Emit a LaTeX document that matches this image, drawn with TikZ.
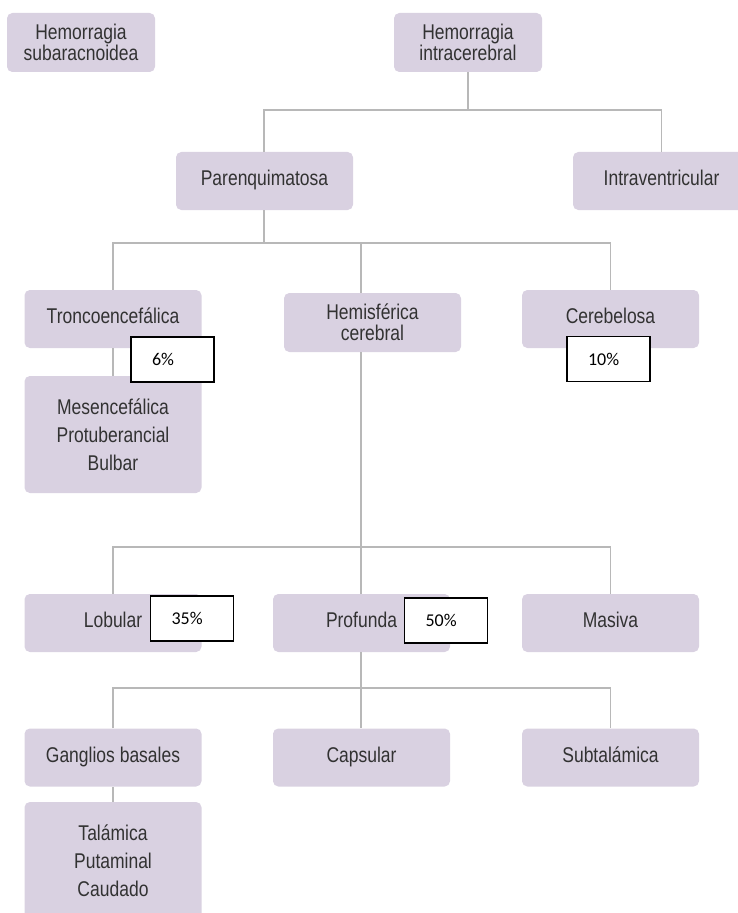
\documentclass[tikz,border=0pt]{standalone}
\usepackage{fontspec}
\newfontfamily\boxfont[FakeStretch=0.82]{Liberation Sans}
\newfontfamily\pctfont{Carlito}
\definecolor{boxc}{RGB}{217,209,225}
\definecolor{txtc}{RGB}{50,50,50}
\definecolor{linec}{RGB}{184,184,184}
\begin{document}
\begin{tikzpicture}[x=0.75pt,y=-0.75pt,
  box/.style={fill=boxc, draw=none, rounded corners=4pt, text=txtc, align=center,
    font=\boxfont\fontsize{16pt}{16pt}\selectfont, inner sep=0pt,
    minimum width=177*0.75pt, minimum height=58*0.75pt},
  onebox/.style={box, text height=0.72em, text depth=0pt},
  tallbox/.style={box, font=\boxfont\fontsize{16pt}{21pt}\selectfont},
  pbox/.style={draw=black, fill=white, line width=0.8pt, font=\pctfont\fontsize{13.5pt}{15pt}\selectfont,
    text width=41*0.75pt, inner xsep=21*0.75pt, inner ysep=0pt, align=left, minimum height=45*0.75pt},
  conn/.style={draw=linec, line width=1.1pt}]
\useasboundingbox (0,0) rectangle (738,913);

% level 0
\node[box, minimum width=148*0.75pt, minimum height=59*0.75pt] (sub) at (81,42.5) {Hemorragia\\subaracnoidea};
\node[box, minimum width=148*0.75pt, minimum height=59*0.75pt] (intra) at (468,42.5) {Hemorragia\\intracerebral};
% level 1
\node[onebox] (paren) at (264.5,181) {Parenquimatosa};
\node[onebox] (ventr) at (661.5,181) {Intraventricular};
% level 2
\node[onebox] (tronco) at (113,319) {Troncoencefálica};
\node[box, minimum height=59*0.75pt] (hemis) at (372.5,322.5) {Hemisférica\\cerebral};
\node[onebox] (cereb) at (610.5,319) {Cerebelosa};
\node[tallbox, minimum height=117*0.75pt] (mesen) at (113,434.5) {Mesencefálica\\Protuberancial\\Bulbar};
% level 3
\node[onebox] (lob) at (113,623) {Lobular};
\node[onebox] (prof) at (361.5,623) {Profunda};
\node[onebox] (masiva) at (610.5,623) {Masiva};
% level 4
\node[onebox] (gang) at (113,757.5) {Ganglios basales};
\node[onebox] (caps) at (361.5,757.5) {Capsular};
\node[onebox] (subt) at (610.5,757.5) {Subtalámica};
\node[tallbox, minimum height=118*0.75pt] (talam) at (113,861) {Talámica\\Putaminal\\Caudado};

% connectors
\coordinate (j1) at (468,110);
\draw[conn] (intra.south) -- (j1);
\draw[conn] (paren.north -| 264,0) |- (j1) -| (ventr.north);
\coordinate (j2) at (264,243);
\draw[conn] (paren.south -| j2) -- (j2);
\draw[conn] (tronco.north) |- (j2) -| (cereb.north);
\coordinate (j3) at (361,547);
\draw[conn] (hemis.south -| j3) -- (j3);
\draw[conn] (j2) -| (hemis.north -| j3);
\draw[conn] (lob.north) |- (j3) -| (masiva.north);
\draw[conn] (j3) -- (prof.north -| j3);
\coordinate (j4) at (361,688);
\draw[conn] (prof.south -| j4) -- (j4);
\draw[conn] (gang.north) |- (j4) -| (subt.north);
\draw[conn] (j4) -- (caps.north -| j4);
\draw[conn] (tronco.south) -- (mesen.north);
\draw[conn] (gang.south) -- (talam.north);

% percent boxes
\node[pbox] (p6) at (172.5,359.5) {6\%};
\node[pbox] (p10) at (608.5,359) {10\%};
\node[pbox] (p35) at (192,618.5) {35\%};
\node[pbox] (p50) at (446,620.5) {50\%};
\end{tikzpicture}
\end{document}
